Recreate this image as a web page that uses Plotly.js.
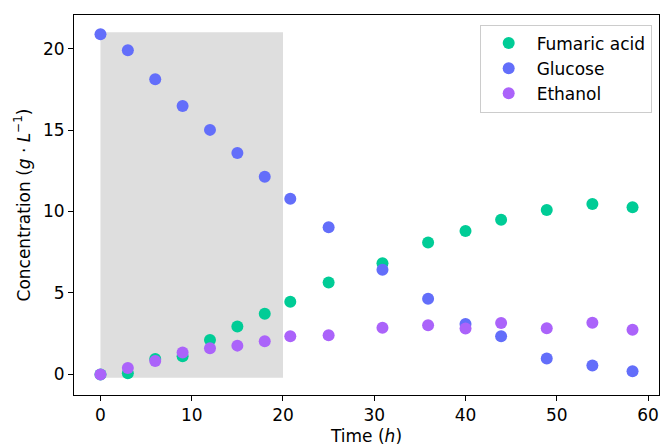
<!DOCTYPE html>
<html>
<head>
<meta charset="utf-8">
<script src="https://cdn.plot.ly/plotly-3.0.1.min.js"></script>
<style>
  html, body { margin: 0; padding: 0; background: #fff; }
  #chart { width: 662px; height: 446px; }
</style>
</head>
<body>
<div id="chart"></div>
<script>
// Sampling times (h)
const time = [0, 3, 6, 9, 12, 15, 18, 20.8, 25, 30.9, 35.9, 40, 43.9, 48.9, 53.9, 58.3];

// Concentrations (g/L)
const fumaricAcid = [0, 0.08, 0.95, 1.12, 2.12, 2.94, 3.73, 4.46, 5.65, 6.83, 8.10, 8.81, 9.49, 10.10, 10.46, 10.26];
const glucose     = [20.88, 19.89, 18.12, 16.48, 15.01, 13.59, 12.14, 10.78, 9.04, 6.43, 4.65, 3.10, 2.34, 0.98, 0.55, 0.20];
const ethanol     = [0, 0.39, 0.82, 1.35, 1.61, 1.77, 2.04, 2.35, 2.41, 2.86, 3.02, 2.82, 3.16, 2.84, 3.18, 2.75];

const seriesNames  = ['Fumaric acid', 'Glucose', 'Ethanol'];
const seriesValues = [fumaricAcid, glucose, ethanol];
const seriesColors = ['#00CC96', '#636EFA', '#AB63FA'];

// Shaded time window
const windowX = [0, 20];
const windowY = [-0.2, 21.0];

const xTicks = [0, 10, 20, 30, 40, 50, 60];
const yTicks = [0, 5, 10, 15, 20];

const FONT = 'DejaVu Sans, sans-serif';
const FS = 17;

const traces = seriesNames.map((name, i) => ({
  type: 'scatter',
  mode: 'markers',
  name: name,
  x: time,
  y: seriesValues[i],
  marker: { color: seriesColors[i], size: 12, line: { width: 0 } }
}));

const axisCommon = {
  showgrid: false,
  zeroline: false,
  showline: true,
  linecolor: '#000',
  linewidth: 1,
  mirror: true,
  ticks: 'outside',
  ticklen: 5,
  tickwidth: 1,
  tickcolor: '#000',
  tickfont: { family: FONT, size: FS, color: '#000' }
};

const layout = {
  width: 662,
  height: 446,
  margin: { l: 74, r: 3, t: 15, b: 51 },
  paper_bgcolor: '#fff',
  plot_bgcolor: '#fff',
  font: { family: FONT, size: FS, color: '#000' },
  showlegend: true,
  legend: {
    x: 0.9875, xanchor: 'right',
    y: 0.975, yanchor: 'top',
    bgcolor: 'rgba(255,255,255,0.8)',
    bordercolor: '#cccccc',
    borderwidth: 1,
    font: { family: FONT, size: FS, color: '#000' },
    itemwidth: 46
  },
  xaxis: Object.assign({}, axisCommon, {
    range: [-2.9, 61.2],
    tickvals: xTicks,
    title: { text: 'Time (<i>h</i>)', font: { family: FONT, size: FS, color: '#000' }, standoff: 6 }
  }),
  yaxis: Object.assign({}, axisCommon, {
    range: [-1.26, 22.06],
    tickvals: yTicks,
    title: { text: 'Concentration (<i>g</i> · <i>L</i><sup>−1</sup>)', font: { family: FONT, size: FS, color: '#000' }, standoff: 8 }
  }),
  shapes: [{
    type: 'rect',
    xref: 'x', yref: 'y',
    x0: windowX[0], x1: windowX[1],
    y0: windowY[0], y1: windowY[1],
    fillcolor: '#dedede',
    line: { width: 0 },
    layer: 'below'
  }]
};

Plotly.newPlot('chart', traces, layout, { displayModeBar: false, staticPlot: true });
</script>
</body>
</html>
